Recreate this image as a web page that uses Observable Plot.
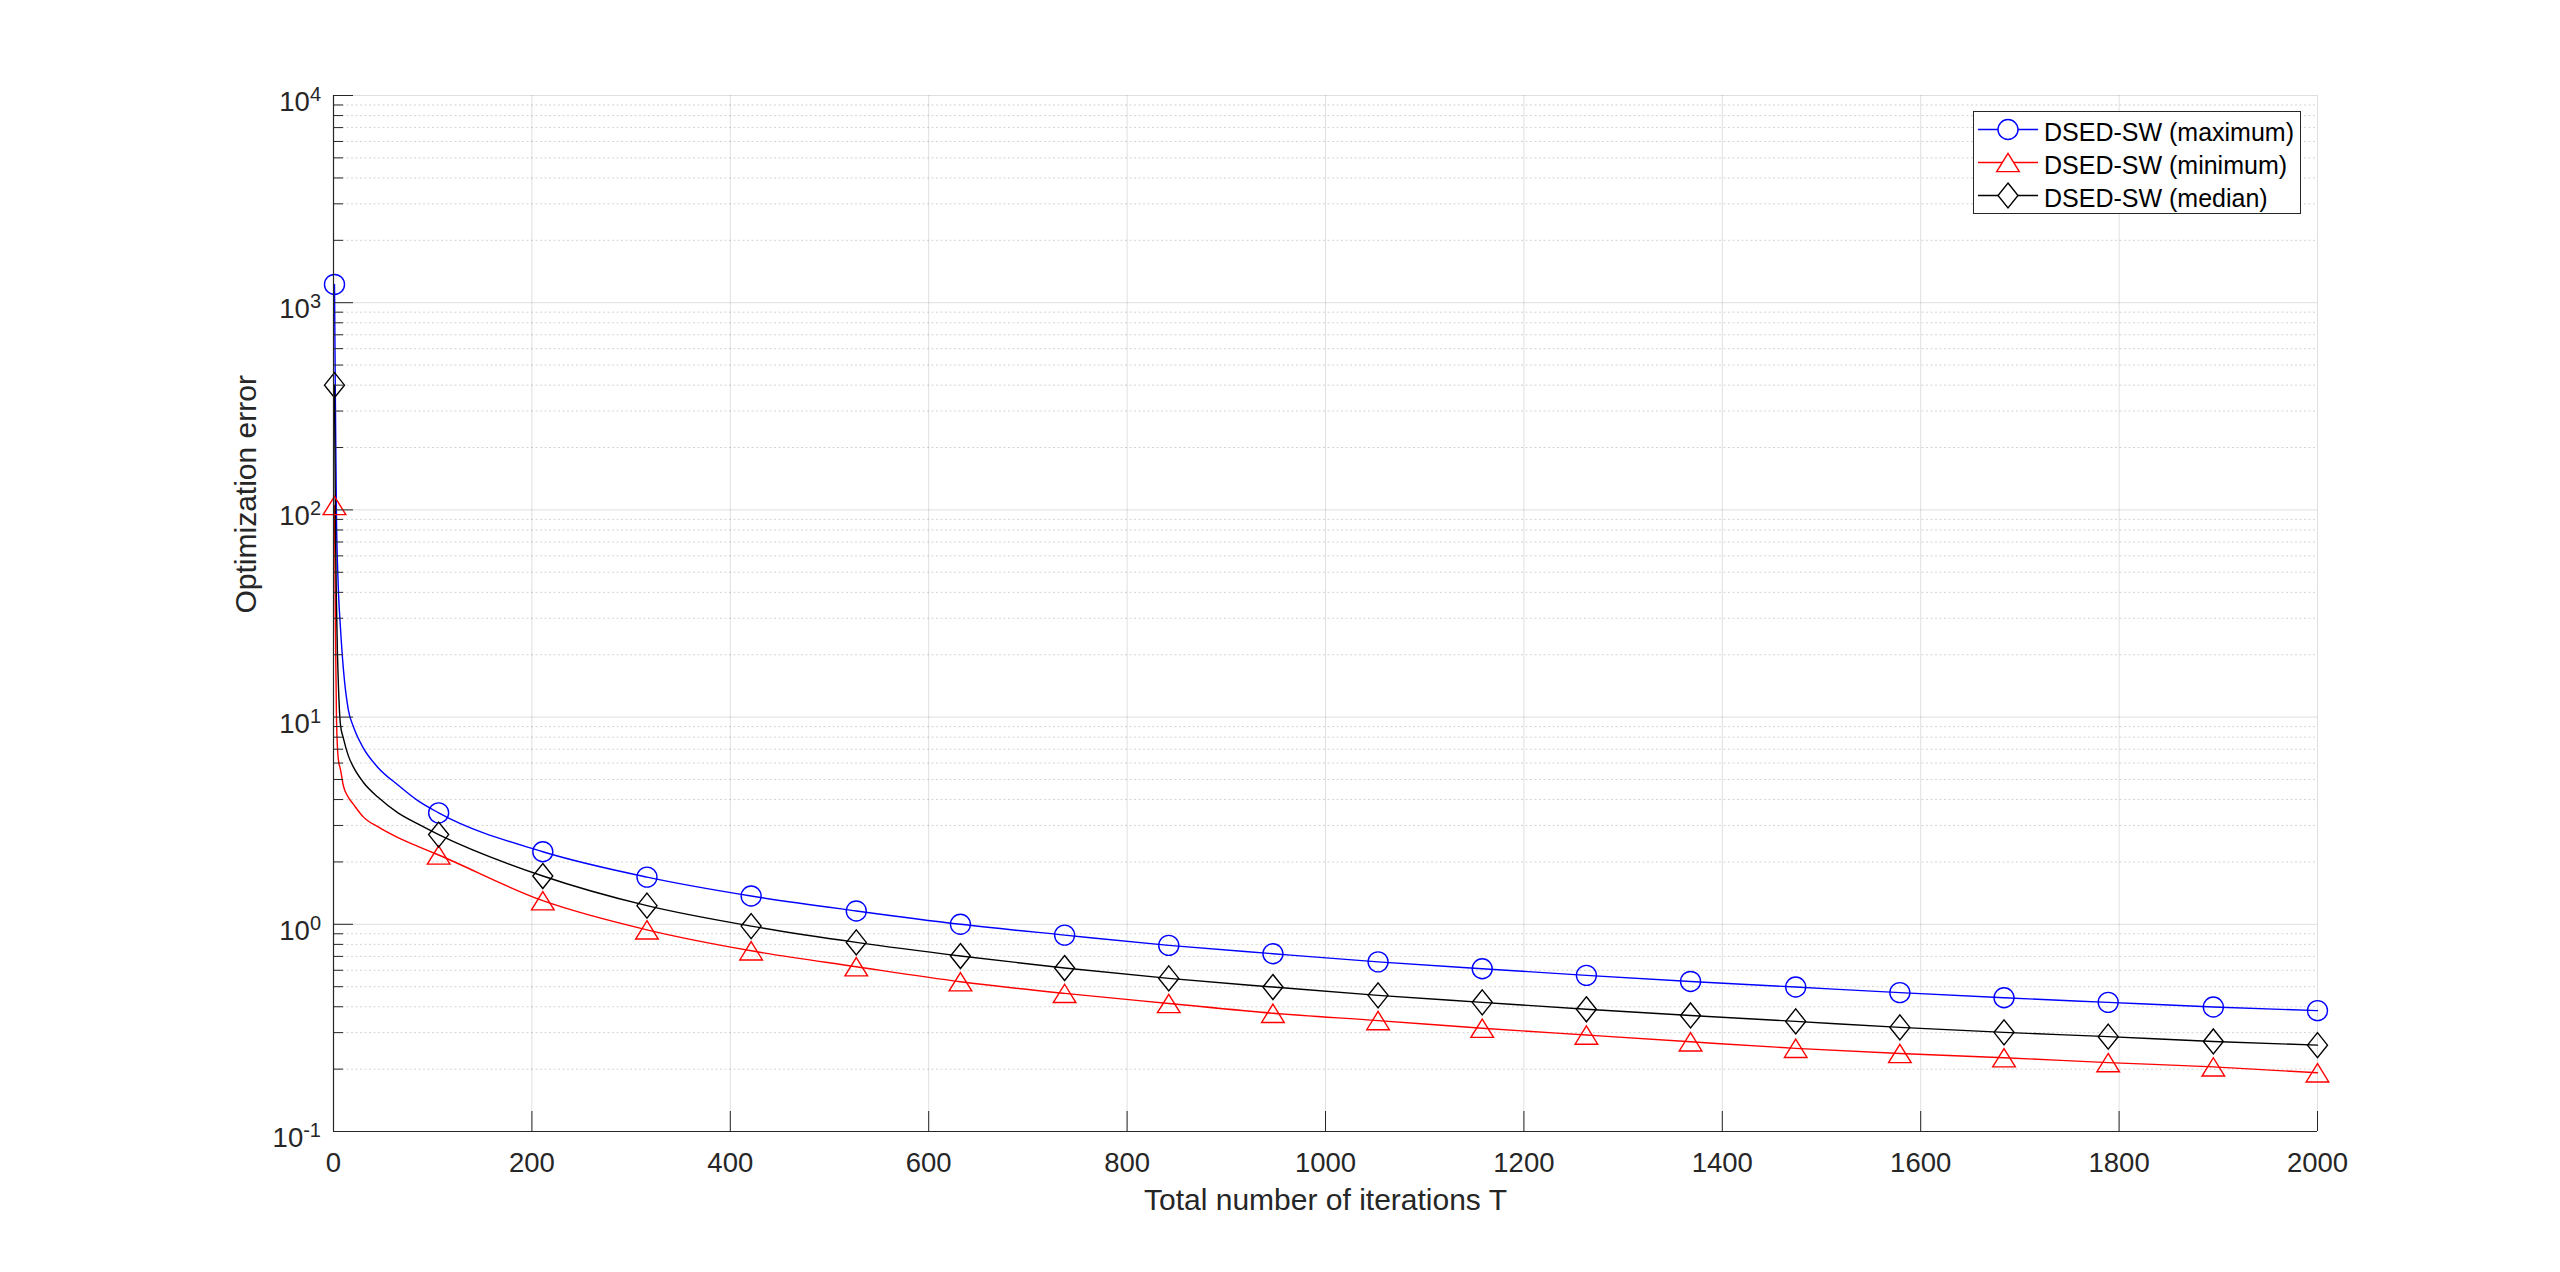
<!DOCTYPE html>
<html>
<head>
<meta charset="utf-8">
<script src="https://cdn.jsdelivr.net/npm/d3@7"></script>
<script src="https://cdn.jsdelivr.net/npm/@observablehq/plot@0.6"></script>
<style>
html, body { margin: 0; padding: 0; background: #fff; }
#wrap { position: relative; width: 2560px; height: 1272px; font-family: "Liberation Sans", Arial, Helvetica, sans-serif; }
#wrap svg { display: block; }
</style>
</head>
<body>
<div id="wrap"></div>
<script>
// ---- data ----
const iterT = [1, 2, 3, 4, 5, 7, 10, 15, 20, 30, 45, 65, 85,
  106, 211, 316, 421, 527, 632, 737, 842, 947, 1053, 1158, 1263, 1368, 1474, 1579, 1684, 1789, 1895, 2000];
const errMax = [1225, 300, 90, 55, 40, 27, 17, 10.8, 9.0, 7.1, 5.7, 4.7, 3.95,
  3.45, 2.24, 1.69, 1.37, 1.16, 1.00, 0.887, 0.791, 0.721, 0.659, 0.610, 0.567, 0.530, 0.498, 0.468, 0.442, 0.420, 0.399, 0.383];
const errMin = [105, 25, 10, 7.1, 6.2, 5.6, 4.65, 4.1, 3.8, 3.3, 2.95, 2.62, 2.38,
  2.16, 1.30, 0.94, 0.745, 0.624, 0.528, 0.464, 0.415, 0.372, 0.343, 0.315, 0.292, 0.271, 0.252, 0.238, 0.227, 0.215, 0.205, 0.192];
const errMed = [400, 80, 35, 20, 14, 9.2, 7.9, 6.5, 5.75, 4.85, 4.1, 3.45, 3.05,
  2.71, 1.71, 1.23, 0.98, 0.818, 0.703, 0.615, 0.548, 0.498, 0.454, 0.420, 0.389, 0.363, 0.340, 0.318, 0.301, 0.287, 0.272, 0.261];
const markerT = [1, 106, 211, 316, 421, 527, 632, 737, 842, 947, 1053, 1158, 1263, 1368, 1474, 1579, 1684, 1789, 1895, 2000];
const seriesNames = ["DSED-SW (maximum)", "DSED-SW (minimum)", "DSED-SW (median)"];
const seriesColors = ["#0000ff", "#ff0000", "#000000"];
const xTicks = [0, 200, 400, 600, 800, 1000, 1200, 1400, 1600, 1800, 2000];
const yMajor = [0.1, 1, 10, 100, 1000, 10000];
const yExpLabels = ["-1", "0", "1", "2", "3", "4"];
const xLabel = "Total number of iterations T";
const yLabel = "Optimization error";

// ---- layout ----
const W = 2560, H = 1272;
const mL = 333, mR = 243, mT = 95, mB = 141;
const frameW = W - mL - mR, frameH = H - mT - mB;
const FONT = '"Liberation Sans", Arial, Helvetica, sans-serif';
const AX = "#262626";

// minor ticks 2..9 within each decade
const yMinor = [];
yMajor.slice(0, -1).forEach(d => { for (let k = 2; k <= 9; k++) yMinor.push(+(k * d).toPrecision(6)); });

// custom marker shapes (bounding-box centred like MATLAB)
const symTriangle = { draw(ctx, size) { const r = Math.sqrt(size / Math.PI); const w = 1.13 * r, h = 0.915 * r;
  ctx.moveTo(0, -h); ctx.lineTo(w, h); ctx.lineTo(-w, h); ctx.closePath(); } };
const symDiamond = { draw(ctx, size) { const r = Math.sqrt(size / Math.PI);
  ctx.moveTo(0, -1.25 * r); ctx.lineTo(r, 0); ctx.lineTo(0, 1.25 * r); ctx.lineTo(-r, 0); ctx.closePath(); } };
const seriesSymbols = [d3.symbolCircle, symTriangle, symDiamond];

const seriesValues = [errMax, errMin, errMed];
const rows = seriesNames.map((name, s) => iterT.map((t, i) => ({ series: name, T: t, err: seriesValues[s][i] })));

const lineMarks = rows.map((r, s) => Plot.line(r, { x: "T", y: "err", stroke: seriesColors[s], strokeWidth: 1.4, curve: "monotone-x" }));
const dotMarks = rows.map((r, s) => Plot.dot(r.filter(d => markerT.includes(d.T)), {
  x: "T", y: "err", r: 10, symbol: seriesSymbols[s], stroke: seriesColors[s], fill: "none", strokeWidth: 1.4
}));

const chart = Plot.plot({
  width: W, height: H,
  marginLeft: mL, marginRight: mR, marginTop: mT, marginBottom: mB,
  style: { fontFamily: FONT, background: "#fff", color: AX, overflow: "visible" },
  x: { domain: [0, 2000] },
  y: { type: "log", domain: [0.1, 10000], axis: null },
  marks: [
    Plot.gridY(yMinor, { stroke: AX, strokeOpacity: 0.2, strokeDasharray: "2,2.5", strokeWidth: 1 }),
    Plot.gridY(yMajor, { stroke: AX, strokeOpacity: 0.15, strokeWidth: 1 }),
    Plot.gridX(xTicks, { stroke: AX, strokeOpacity: 0.15, strokeWidth: 1 }),
    ...lineMarks,
    ...dotMarks,
    Plot.tickX(xTicks, { x: d => d, insetTop: frameH - 20, stroke: AX, strokeWidth: 1 }),
    Plot.tickY(yMajor, { y: d => d, insetRight: frameW - 20, stroke: AX, strokeWidth: 1 }),
    Plot.tickY(yMinor, { y: d => d, insetRight: frameW - 10, stroke: AX, strokeWidth: 1 }),
    Plot.ruleX([0], { stroke: AX, strokeWidth: 1.2 }),
    Plot.ruleY([0.1], { stroke: AX, strokeWidth: 1.2 }),
    Plot.axisX({ ticks: xTicks, tickSize: 0, tickPadding: 21, fontSize: 27.5, label: null, color: AX, tickFormat: d => String(d) }),
    Plot.text(yMajor, { y: d => d, text: (d, i) => "10^" + yExpLabels[i], frameAnchor: "left", textAnchor: "end",
      lineAnchor: "bottom", dx: -12.5, dy: 15.5, fontSize: 27.5, fill: AX }),
    Plot.text([xLabel], { frameAnchor: "bottom", lineAnchor: "bottom", dy: 78, fontSize: 30, fill: AX }),
    Plot.text([yLabel], { frameAnchor: "left", rotate: -90, lineAnchor: "bottom", dx: -77.5, fontSize: 30, fill: AX })
  ]
});

// superscript exponents on the y tick labels
chart.querySelectorAll("text").forEach(t => {
  const s = t.textContent;
  if (s.startsWith("10^")) {
    t.textContent = "10";
    const ts = document.createElementNS("http://www.w3.org/2000/svg", "tspan");
    ts.setAttribute("dy", "-10");
    ts.setAttribute("font-size", "20");
    ts.textContent = s.slice(3);
    t.appendChild(ts);
  }
});

const wrap = document.getElementById("wrap");
wrap.appendChild(chart);

// ---- legend (inside the axes, top right) ----
const leg = d3.select(wrap).append("svg")
  .attr("width", W).attr("height", H)
  .style("position", "absolute").style("left", "0px").style("top", "0px")
  .style("pointer-events", "none");
leg.append("rect").attr("x", 1973.5).attr("y", 111.5).attr("width", 327).attr("height", 102)
  .attr("fill", "#fff").attr("stroke", AX).attr("stroke-width", 1);
seriesNames.forEach((name, i) => {
  const cy = 129.5 + 33 * i;
  leg.append("line").attr("x1", 1978).attr("x2", 2038).attr("y1", cy).attr("y2", cy)
    .attr("stroke", seriesColors[i]).attr("stroke-width", 1.4);
  leg.append("path").attr("d", d3.symbol(seriesSymbols[i], Math.PI * 100)())
    .attr("transform", `translate(2008,${cy})`)
    .attr("fill", "#fff").attr("stroke", seriesColors[i]).attr("stroke-width", 1.4);
  leg.append("text").attr("x", 2044).attr("y", cy + 11).attr("font-size", 25)
    .attr("font-family", FONT).attr("fill", "#000").text(name);
});
</script>
</body>
</html>
